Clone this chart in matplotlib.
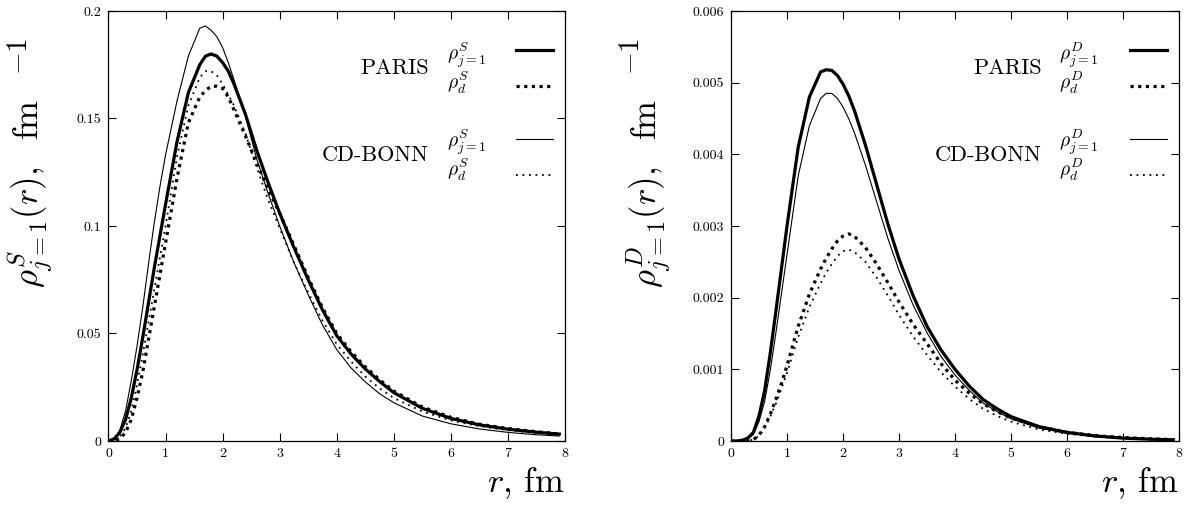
import matplotlib
matplotlib.use("Agg")
from matplotlib import pyplot as plt
from matplotlib.ticker import FuncFormatter, MultipleLocator

plt.rcParams["font.family"] = "cmr10"
plt.rcParams["mathtext.fontset"] = "cm"
plt.rcParams["axes.formatter.use_mathtext"] = True

# radius grid, fm
r = [0.0, 0.1, 0.2, 0.3, 0.4, 0.5, 0.6, 0.7, 0.8, 0.9, 1.0, 1.2, 1.4, 1.6, 1.7, 1.8, 1.9,
     2.0, 2.1, 2.2, 2.4, 2.6, 2.8, 3.0, 3.25, 3.5, 3.75, 4.0, 4.25, 4.5, 4.75, 5.0, 5.5,
     6.0, 6.5, 7.0, 7.5, 7.9]

# S-wave densities
paris_S_j1 = [0, 0.001, 0.004, 0.010, 0.020, 0.033, 0.048, 0.064, 0.080, 0.095, 0.110,
              0.139, 0.162, 0.175, 0.179, 0.180, 0.179, 0.176, 0.172, 0.166, 0.152, 0.135,
              0.120, 0.106, 0.090, 0.075, 0.061, 0.049, 0.0405, 0.0335, 0.0277, 0.0225,
              0.0152, 0.0105, 0.0075, 0.0055, 0.0041, 0.0032]
paris_S_d = [0, 0.0003, 0.001, 0.004, 0.010, 0.020, 0.032, 0.047, 0.062, 0.077, 0.092,
             0.122, 0.148, 0.160, 0.163, 0.165, 0.165, 0.164, 0.160, 0.154, 0.142, 0.129,
             0.117, 0.106, 0.091, 0.076, 0.062, 0.050, 0.0415, 0.0345, 0.0285, 0.0232,
             0.0158, 0.0110, 0.0078, 0.0058, 0.0043, 0.0033]
bonn_S_j1 = [0, 0.001, 0.005, 0.014, 0.028, 0.044, 0.062, 0.082, 0.101, 0.118, 0.133,
             0.158, 0.179, 0.192, 0.193, 0.191, 0.188, 0.183, 0.176, 0.168, 0.151, 0.131,
             0.115, 0.100, 0.083, 0.068, 0.054, 0.0425, 0.034, 0.0275, 0.022, 0.0178,
             0.0116, 0.0080, 0.0056, 0.0040, 0.0029, 0.0023]
bonn_S_d = [0, 0.0005, 0.002, 0.006, 0.014, 0.026, 0.040, 0.055, 0.070, 0.085, 0.100,
            0.132, 0.156, 0.169, 0.172, 0.172, 0.170, 0.166, 0.161, 0.156, 0.143, 0.127,
            0.112, 0.099, 0.083, 0.069, 0.056, 0.045, 0.037, 0.030, 0.0245, 0.020,
            0.0137, 0.0096, 0.0069, 0.0050, 0.0037, 0.0029]

# D-wave densities
paris_D_j1 = [0, 0, 0.00001, 0.00004, 0.00012, 0.00035, 0.0007, 0.00122, 0.0018, 0.0024,
              0.0030, 0.0041, 0.0048, 0.00515, 0.00518, 0.00517, 0.00510, 0.00498, 0.00482,
              0.00462, 0.00413, 0.00358, 0.00303, 0.00254, 0.00203, 0.00160, 0.00127,
              0.00100, 0.00077, 0.00058, 0.00045, 0.00034, 0.00020, 0.00012, 0.00007,
              0.00004, 0.000025, 0.000016]
paris_D_d = [0, 0, 0, 0, 0.00002, 0.00008, 0.0002, 0.00037, 0.00058, 0.0008, 0.00105,
             0.00160, 0.00205, 0.00240, 0.00255, 0.00268, 0.00279, 0.00286, 0.00289,
             0.00286, 0.00270, 0.00247, 0.00221, 0.00194, 0.00163, 0.00136, 0.00108,
             0.00085, 0.00067, 0.00052, 0.00041, 0.00032, 0.00020, 0.00012, 0.000075,
             0.000048, 0.00003, 0.00002]
bonn_D_j1 = [0, 0, 0.000005, 0.00003, 0.00009, 0.00027, 0.00055, 0.00098, 0.0015, 0.00205,
             0.0026, 0.0037, 0.0044, 0.00478, 0.00485, 0.00485, 0.00478, 0.00466, 0.00450,
             0.00431, 0.00385, 0.00334, 0.00283, 0.00238, 0.00190, 0.00151, 0.00118,
             0.00092, 0.00071, 0.00053, 0.00041, 0.00031, 0.00018, 0.00011, 0.000065,
             0.000038, 0.000023, 0.000015]
bonn_D_d = [0, 0, 0, 0, 0.00002, 0.00007, 0.00018, 0.00034, 0.00052, 0.00073, 0.00095,
            0.00145, 0.00187, 0.00220, 0.00235, 0.00247, 0.00258, 0.00265, 0.00267,
            0.00264, 0.00250, 0.00228, 0.00203, 0.00176, 0.00146, 0.00120, 0.00096,
            0.00076, 0.00059, 0.00045, 0.00035, 0.00027, 0.00016, 0.0001, 0.00006,
            0.00004, 0.000025, 0.000015]

THICK_DOT = (0, (1, 1.4))
THIN_DOT = (0, (1, 2.6))


def tickLabel(v, pos):
    return "%g" % v


def drawPanel(ax, j1_paris, d_paris, j1_bonn, d_bonn, wave, ymax, ystep, textX, nameX,
              labelX, expX):
    lp1, = ax.plot(r, j1_paris, color="black", lw=2.3)
    lp2, = ax.plot(r, d_paris, color="black", lw=2.3, ls=THICK_DOT, dash_capstyle="butt")
    lb1, = ax.plot(r, j1_bonn, color="black", lw=0.8)
    lb2, = ax.plot(r, d_bonn, color="black", lw=1.3, ls=THIN_DOT, dash_capstyle="butt")

    ax.set_xlim(0, 8)
    ax.set_ylim(0, ymax)
    ax.xaxis.set_major_locator(MultipleLocator(1))
    ax.yaxis.set_major_locator(MultipleLocator(ystep))
    ax.xaxis.set_major_formatter(FuncFormatter(tickLabel))
    ax.yaxis.set_major_formatter(FuncFormatter(tickLabel))
    ax.tick_params(direction="in", top=True, right=True, length=6, width=0.8,
                   labelsize=10, pad=5)
    for s in ax.spines.values():
        s.set_linewidth(0.9)

    # line samples from the legend, labels as separate left-aligned texts
    kw = dict(frameon=False, markerfirst=False, fontsize=14, handlelength=1.9,
              handletextpad=0, labelspacing=0.92, borderaxespad=0, borderpad=0,
              loc="upper right")
    leg1 = ax.legend([lp1, lp2], [" ", " "], bbox_to_anchor=(0.974, 0.926), **kw)
    ax.add_artist(leg1)
    ax.legend([lb1, lb2], [" ", " "], bbox_to_anchor=(0.974, 0.718), **kw)

    lab1 = r"$\rho^{%s}_{j=1}$" % wave
    lab2 = r"$\rho^{%s}_{d}$" % wave
    for y, lab in [(0.898, lab1), (0.833, lab2), (0.695, lab1), (0.630, lab2)]:
        ax.text(textX, y, lab, transform=ax.transAxes, ha="left", va="center", fontsize=14)
    ax.text(nameX, 0.867, "PARIS", transform=ax.transAxes, ha="right", va="center", fontsize=16)
    ax.text(nameX, 0.665, "CD-BONN", transform=ax.transAxes, ha="right", va="center", fontsize=16)

    ax.set_xlabel(r"$r$, fm", fontsize=25, loc="right", labelpad=4)
    ax.set_ylabel(r"$\rho^{%s}_{j=1}(r),\ \ \mathrm{fm}$" % wave, fontsize=25)
    ax.yaxis.set_label_coords(labelX, 0.575)
    # large raised exponent of fm, as in the original
    ax.text(expX, 0.895, r"$-1$", transform=ax.transAxes, rotation=90,
            ha="center", va="center", fontsize=21, clip_on=False)


def main():
    fig = plt.figure(figsize=(11.84, 5.08), dpi=100)
    axS = fig.add_axes([0.0916, 0.1319, 0.3856, 0.8465])
    axD = fig.add_axes([0.6174, 0.1319, 0.3784, 0.8465])
    drawPanel(axS, paris_S_j1, paris_S_d, bonn_S_j1, bonn_S_d, "S", 0.2, 0.05,
              0.741, 0.702, -0.115, -0.194)
    drawPanel(axD, paris_D_j1, paris_D_d, bonn_D_j1, bonn_D_d, "D", 0.006, 0.001,
              0.732, 0.694, -0.128, -0.221)
    fig.savefig("out.png", dpi=100)


if __name__ == "__main__":
    main()
